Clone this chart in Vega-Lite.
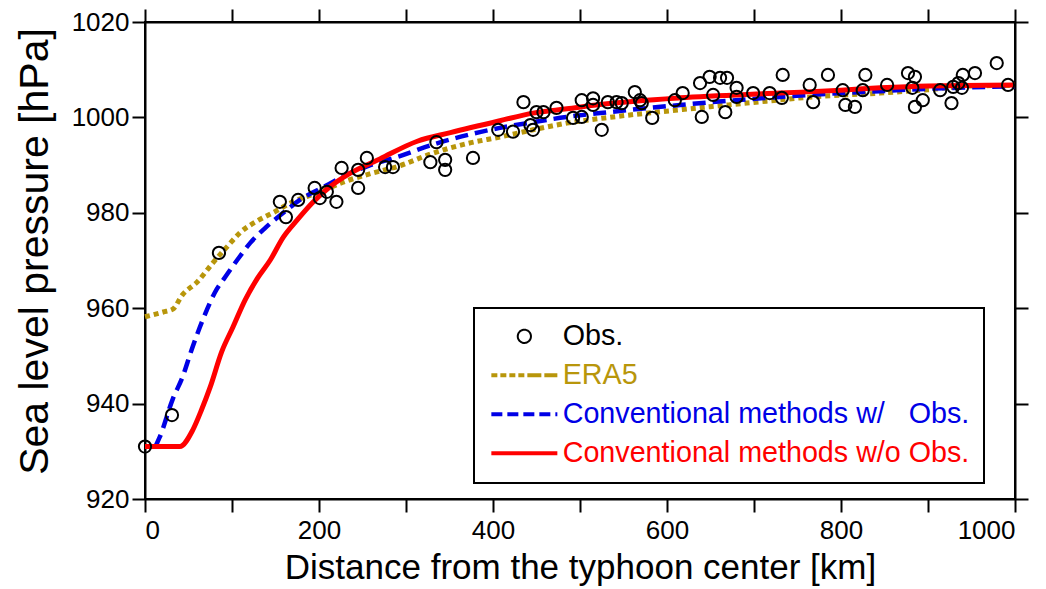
{
  "$schema": "https://vega.github.io/schema/vega-lite/v6.json",
  "width": 870,
  "height": 477,
  "autosize": "none",
  "padding": {"left": 145, "top": 22, "right": 31, "bottom": 90},
  "background": "white",
  "config": {
    "view": {"stroke": "black", "strokeWidth": 2},
    "axis": {"grid": false, "domainColor": "black", "domainWidth": 2, "tickColor": "black", "tickWidth": 2, "tickSize": 13, "labelColor": "black", "titleColor": "black", "labelFont": "Liberation Sans", "labelFontSize": 26, "titleFont": "Liberation Sans", "titleFontWeight": "normal", "format": "d"}
  },
  "datasets": {
    "curves": [
      {"series": "ERA5", "d": 0, "p": 958.2}, {"series": "ERA5", "d": 21, "p": 959.2}, {"series": "ERA5", "d": 32, "p": 959.8}, {"series": "ERA5", "d": 43, "p": 962.8}, {"series": "ERA5", "d": 60, "p": 965.5}, {"series": "ERA5", "d": 78, "p": 969.5}, {"series": "ERA5", "d": 94, "p": 972.8}, {"series": "ERA5", "d": 109, "p": 975.8}, {"series": "ERA5", "d": 129, "p": 978.3}, {"series": "ERA5", "d": 147, "p": 980.0}, {"series": "ERA5", "d": 170, "p": 982.3}, {"series": "ERA5", "d": 198, "p": 984.2}, {"series": "ERA5", "d": 232, "p": 986.7}, {"series": "ERA5", "d": 259, "p": 988.2}, {"series": "ERA5", "d": 290, "p": 989.7}, {"series": "ERA5", "d": 331, "p": 992.5}, {"series": "ERA5", "d": 370, "p": 994.5}, {"series": "ERA5", "d": 408, "p": 995.9}, {"series": "ERA5", "d": 446, "p": 997.4}, {"series": "ERA5", "d": 485, "p": 998.8}, {"series": "ERA5", "d": 538, "p": 1000.1}, {"series": "ERA5", "d": 615, "p": 1001.6}, {"series": "ERA5", "d": 692, "p": 1003.0}, {"series": "ERA5", "d": 768, "p": 1004.3}, {"series": "ERA5", "d": 845, "p": 1005.1}, {"series": "ERA5", "d": 900, "p": 1005.8}, {"series": "ERA5", "d": 950, "p": 1006.6}, {"series": "ERA5", "d": 1000, "p": 1006.7},
      {"series": "Conventional methods w/\u00a0\u00a0 Obs.", "d": 12, "p": 931}, {"series": "Conventional methods w/\u00a0\u00a0 Obs.", "d": 17, "p": 933}, {"series": "Conventional methods w/\u00a0\u00a0 Obs.", "d": 32, "p": 941}, {"series": "Conventional methods w/\u00a0\u00a0 Obs.", "d": 43, "p": 945.5}, {"series": "Conventional methods w/\u00a0\u00a0 Obs.", "d": 54, "p": 951.5}, {"series": "Conventional methods w/\u00a0\u00a0 Obs.", "d": 63, "p": 956}, {"series": "Conventional methods w/\u00a0\u00a0 Obs.", "d": 71, "p": 959.6}, {"series": "Conventional methods w/\u00a0\u00a0 Obs.", "d": 80, "p": 963.2}, {"series": "Conventional methods w/\u00a0\u00a0 Obs.", "d": 92, "p": 966.5}, {"series": "Conventional methods w/\u00a0\u00a0 Obs.", "d": 106, "p": 970.1}, {"series": "Conventional methods w/\u00a0\u00a0 Obs.", "d": 121, "p": 973.7}, {"series": "Conventional methods w/\u00a0\u00a0 Obs.", "d": 138, "p": 976.8}, {"series": "Conventional methods w/\u00a0\u00a0 Obs.", "d": 159, "p": 980}, {"series": "Conventional methods w/\u00a0\u00a0 Obs.", "d": 178, "p": 982.7}, {"series": "Conventional methods w/\u00a0\u00a0 Obs.", "d": 205, "p": 985.4}, {"series": "Conventional methods w/\u00a0\u00a0 Obs.", "d": 232, "p": 988.0}, {"series": "Conventional methods w/\u00a0\u00a0 Obs.", "d": 259, "p": 990}, {"series": "Conventional methods w/\u00a0\u00a0 Obs.", "d": 293, "p": 991.9}, {"series": "Conventional methods w/\u00a0\u00a0 Obs.", "d": 331, "p": 994.3}, {"series": "Conventional methods w/\u00a0\u00a0 Obs.", "d": 377, "p": 996.6}, {"series": "Conventional methods w/\u00a0\u00a0 Obs.", "d": 408, "p": 997.8}, {"series": "Conventional methods w/\u00a0\u00a0 Obs.", "d": 446, "p": 999.0}, {"series": "Conventional methods w/\u00a0\u00a0 Obs.", "d": 485, "p": 1000.1}, {"series": "Conventional methods w/\u00a0\u00a0 Obs.", "d": 523, "p": 1000.9}, {"series": "Conventional methods w/\u00a0\u00a0 Obs.", "d": 615, "p": 1002.6}, {"series": "Conventional methods w/\u00a0\u00a0 Obs.", "d": 730, "p": 1004.3}, {"series": "Conventional methods w/\u00a0\u00a0 Obs.", "d": 800, "p": 1005.1}, {"series": "Conventional methods w/\u00a0\u00a0 Obs.", "d": 845, "p": 1005.5}, {"series": "Conventional methods w/\u00a0\u00a0 Obs.", "d": 900, "p": 1006.0}, {"series": "Conventional methods w/\u00a0\u00a0 Obs.", "d": 1000, "p": 1006.5},
      {"series": "Conventional methods w/o Obs.", "d": 0, "p": 931}, {"series": "Conventional methods w/o Obs.", "d": 40, "p": 931}, {"series": "Conventional methods w/o Obs.", "d": 55, "p": 934.5}, {"series": "Conventional methods w/o Obs.", "d": 65, "p": 938.7}, {"series": "Conventional methods w/o Obs.", "d": 75, "p": 943.5}, {"series": "Conventional methods w/o Obs.", "d": 88, "p": 950.8}, {"series": "Conventional methods w/o Obs.", "d": 101, "p": 956}, {"series": "Conventional methods w/o Obs.", "d": 115, "p": 961.7}, {"series": "Conventional methods w/o Obs.", "d": 129, "p": 966.2}, {"series": "Conventional methods w/o Obs.", "d": 144, "p": 970.1}, {"series": "Conventional methods w/o Obs.", "d": 159, "p": 974.9}, {"series": "Conventional methods w/o Obs.", "d": 175, "p": 978.5}, {"series": "Conventional methods w/o Obs.", "d": 193, "p": 982.2}, {"series": "Conventional methods w/o Obs.", "d": 213, "p": 985.5}, {"series": "Conventional methods w/o Obs.", "d": 236, "p": 988.3}, {"series": "Conventional methods w/o Obs.", "d": 270, "p": 991.3}, {"series": "Conventional methods w/o Obs.", "d": 313, "p": 995.0}, {"series": "Conventional methods w/o Obs.", "d": 351, "p": 996.8}, {"series": "Conventional methods w/o Obs.", "d": 408, "p": 999.3}, {"series": "Conventional methods w/o Obs.", "d": 446, "p": 1000.9}, {"series": "Conventional methods w/o Obs.", "d": 485, "p": 1001.8}, {"series": "Conventional methods w/o Obs.", "d": 523, "p": 1002.7}, {"series": "Conventional methods w/o Obs.", "d": 615, "p": 1004.1}, {"series": "Conventional methods w/o Obs.", "d": 730, "p": 1005.1}, {"series": "Conventional methods w/o Obs.", "d": 800, "p": 1005.7}, {"series": "Conventional methods w/o Obs.", "d": 845, "p": 1006.2}, {"series": "Conventional methods w/o Obs.", "d": 900, "p": 1006.6}, {"series": "Conventional methods w/o Obs.", "d": 1000, "p": 1006.8}
    ],
    "obs": [
      {"series": "Obs.", "d": 0, "p": 931}, {"series": "Obs.", "d": 31, "p": 937.6}, {"series": "Obs.", "d": 85, "p": 971.6}, {"series": "Obs.", "d": 155, "p": 982.3}, {"series": "Obs.", "d": 162, "p": 979.1}, {"series": "Obs.", "d": 176, "p": 982.7}, {"series": "Obs.", "d": 195, "p": 985.2}, {"series": "Obs.", "d": 201, "p": 983.1}, {"series": "Obs.", "d": 209, "p": 984.4}, {"series": "Obs.", "d": 220, "p": 982.3}, {"series": "Obs.", "d": 226, "p": 989.4}, {"series": "Obs.", "d": 245, "p": 989.0}, {"series": "Obs.", "d": 245, "p": 985.2}, {"series": "Obs.", "d": 255, "p": 991.5}, {"series": "Obs.", "d": 276, "p": 989.6}, {"series": "Obs.", "d": 285, "p": 989.6}, {"series": "Obs.", "d": 335, "p": 994.8}, {"series": "Obs.", "d": 328, "p": 990.6}, {"series": "Obs.", "d": 345, "p": 991.1}, {"series": "Obs.", "d": 345, "p": 989.0}, {"series": "Obs.", "d": 377, "p": 991.5}, {"series": "Obs.", "d": 406, "p": 997.4}, {"series": "Obs.", "d": 423, "p": 997.0}, {"series": "Obs.", "d": 435, "p": 1003.2}, {"series": "Obs.", "d": 443, "p": 998.4}, {"series": "Obs.", "d": 446, "p": 997.4}, {"series": "Obs.", "d": 450, "p": 1001.1}, {"series": "Obs.", "d": 458, "p": 1001.1}, {"series": "Obs.", "d": 473, "p": 1002.0}, {"series": "Obs.", "d": 492, "p": 999.9}, {"series": "Obs.", "d": 502, "p": 1003.6}, {"series": "Obs.", "d": 502, "p": 1000.1}, {"series": "Obs.", "d": 515, "p": 1004.0}, {"series": "Obs.", "d": 515, "p": 1002.6}, {"series": "Obs.", "d": 525, "p": 997.4}, {"series": "Obs.", "d": 532, "p": 1003.2}, {"series": "Obs.", "d": 542, "p": 1003.2}, {"series": "Obs.", "d": 548, "p": 1003.0}, {"series": "Obs.", "d": 563, "p": 1005.3}, {"series": "Obs.", "d": 569, "p": 1003.6}, {"series": "Obs.", "d": 571, "p": 1003.0}, {"series": "Obs.", "d": 583, "p": 999.9}, {"series": "Obs.", "d": 609, "p": 1003.6}, {"series": "Obs.", "d": 618, "p": 1005.1}, {"series": "Obs.", "d": 638, "p": 1007.2}, {"series": "Obs.", "d": 640, "p": 1000.1}, {"series": "Obs.", "d": 649, "p": 1008.5}, {"series": "Obs.", "d": 653, "p": 1004.7}, {"series": "Obs.", "d": 661, "p": 1008.3}, {"series": "Obs.", "d": 669, "p": 1008.3}, {"series": "Obs.", "d": 667, "p": 1001.1}, {"series": "Obs.", "d": 680, "p": 1006.2}, {"series": "Obs.", "d": 680, "p": 1004.3}, {"series": "Obs.", "d": 699, "p": 1005.1}, {"series": "Obs.", "d": 718, "p": 1005.1}, {"series": "Obs.", "d": 732, "p": 1004.1}, {"series": "Obs.", "d": 733, "p": 1008.9}, {"series": "Obs.", "d": 764, "p": 1006.8}, {"series": "Obs.", "d": 768, "p": 1003.2}, {"series": "Obs.", "d": 785, "p": 1008.9}, {"series": "Obs.", "d": 802, "p": 1005.7}, {"series": "Obs.", "d": 805, "p": 1002.6}, {"series": "Obs.", "d": 816, "p": 1002.2}, {"series": "Obs.", "d": 825, "p": 1005.7}, {"series": "Obs.", "d": 828, "p": 1008.9}, {"series": "Obs.", "d": 853, "p": 1006.8}, {"series": "Obs.", "d": 877, "p": 1009.3}, {"series": "Obs.", "d": 885, "p": 1008.5}, {"series": "Obs.", "d": 882, "p": 1006.2}, {"series": "Obs.", "d": 894, "p": 1003.6}, {"series": "Obs.", "d": 885, "p": 1002.2}, {"series": "Obs.", "d": 914, "p": 1005.7}, {"series": "Obs.", "d": 927, "p": 1003.0}, {"series": "Obs.", "d": 929, "p": 1006.4}, {"series": "Obs.", "d": 935, "p": 1007.2}, {"series": "Obs.", "d": 939, "p": 1006.2}, {"series": "Obs.", "d": 940, "p": 1008.9}, {"series": "Obs.", "d": 954, "p": 1009.3}, {"series": "Obs.", "d": 979, "p": 1011.4}, {"series": "Obs.", "d": 992, "p": 1006.8}
    ]
  },
  "resolve": {"axis": {"x": "independent", "y": "independent"}},
  "layer": [
    {
      "data": {"name": "curves"},
      "transform": [{"filter": "datum.series === 'ERA5'"}],
      "mark": {"type": "line", "strokeWidth": 5, "strokeDash": [5, 4], "strokeCap": "butt", "interpolate": "monotone"},
      "encoding": {
        "x": {"field": "d", "type": "quantitative", "scale": {"domain": [0, 1000], "nice": false}, "axis": {"orient": "bottom", "values": [0, 100, 200, 300, 400, 500, 600, 700, 800, 900, 1000], "labelExpr": "datum.value % 200 === 0 ? datum.label : ''", "labelFontSize": 26, "labelPadding": 5, "title": "Distance from the typhoon center [km]", "titleFontSize": 35, "titlePadding": 7}},
        "y": {"field": "p", "type": "quantitative", "scale": {"domain": [920, 1020], "nice": false, "zero": false}, "axis": {"orient": "left", "values": [920, 940, 960, 980, 1000, 1020], "labelPadding": 3, "title": "Sea level pressure [hPa]", "titleFontSize": 41, "titlePadding": 15, "titleY": 229}},
        "color": {
          "field": "series", "type": "nominal",
          "scale": {"domain": ["Obs.", "ERA5", "Conventional methods w/\u00a0\u00a0 Obs.", "Conventional methods w/o Obs."], "range": ["black", "#b8960b", "#0000e6", "#ff0000"]},
          "legend": {
            "title": null, "orient": "none", "legendX": 329, "legendY": 286,
            "fillColor": "white", "strokeColor": "black", "padding": 14, "rowPadding": 9,
            "symbolSize": 484, "symbolType": "M-1,0H5", "symbolStrokeWidth": 4, "labelOffset": 46,
            "labelFont": "Liberation Sans", "labelFontSize": 28.7, "labelLimit": 0,
            "encode": {
              "legend": {"update": {"strokeWidth": {"value": 2}}},
              "symbols": {"update": {
                "shape": {"signal": "datum.value === 'Obs.' ? 'M2.6,0A0.6,0.6,0,1,1,1.4,0A0.6,0.6,0,1,1,2.6,0Z' : 'M-1,0H5'"},
                "fill": {"value": "transparent"},
                "stroke": {"signal": "datum.value === 'Obs.' ? 'black' : datum.value === 'ERA5' ? '#b8960b' : datum.value === 'Conventional methods w/o Obs.' ? '#ff0000' : '#0000e6'"},
                "strokeWidth": {"signal": "datum.value === 'Obs.' ? 2 : 4"},
                "strokeDash": {"signal": "datum.value === 'ERA5' ? [6,3,6,3,6,3,6,3,14,3,14,2] : (datum.value !== 'Obs.' && datum.value !== 'Conventional methods w/o Obs.') ? [11,5] : [1,0]"},
                "opacity": {"value": 1}
              }},
              "labels": {"update": {
                "fill": {"signal": "datum.value === 'Obs.' ? 'black' : datum.value === 'ERA5' ? '#b8960b' : datum.value === 'Conventional methods w/o Obs.' ? '#ff0000' : '#0000e6'"}
              }}
            }
          }
        }
      }
    },
    {
      "data": {"name": "curves"},
      "transform": [{"filter": "datum.series !== 'ERA5' && datum.series !== 'Conventional methods w/o Obs.'"}],
      "mark": {"type": "line", "strokeWidth": 4.5, "strokeDash": [13, 7], "strokeCap": "butt", "interpolate": "monotone"},
      "encoding": {
        "x": {"field": "d", "type": "quantitative", "scale": {"domain": [0, 1000], "nice": false}, "axis": null},
        "y": {"field": "p", "type": "quantitative", "scale": {"domain": [920, 1020], "nice": false, "zero": false}, "axis": null},
        "color": {"field": "series", "type": "nominal"}
      }
    },
    {
      "data": {"name": "curves"},
      "transform": [{"filter": "datum.series === 'Conventional methods w/o Obs.'"}],
      "mark": {"type": "line", "strokeWidth": 5, "interpolate": "monotone"},
      "encoding": {
        "x": {"field": "d", "type": "quantitative", "scale": {"domain": [0, 1000], "nice": false}, "axis": null},
        "y": {"field": "p", "type": "quantitative", "scale": {"domain": [920, 1020], "nice": false, "zero": false}, "axis": null},
        "color": {"field": "series", "type": "nominal"}
      }
    },
    {
      "data": {"name": "obs"},
      "mark": {"type": "point", "shape": "circle", "filled": false, "size": 150, "strokeWidth": 2, "opacity": 1},
      "encoding": {
        "x": {"field": "d", "type": "quantitative", "scale": {"domain": [0, 1000], "nice": false}, "axis": {"orient": "top", "values": [0, 100, 200, 300, 400, 500, 600, 700, 800, 900, 1000], "labels": false, "title": null}},
        "y": {"field": "p", "type": "quantitative", "scale": {"domain": [920, 1020], "nice": false, "zero": false}, "axis": {"orient": "right", "values": [920, 940, 960, 980, 1000, 1020], "labels": false, "title": null}},
        "color": {"field": "series", "type": "nominal"}
      }
    }
  ]
}
